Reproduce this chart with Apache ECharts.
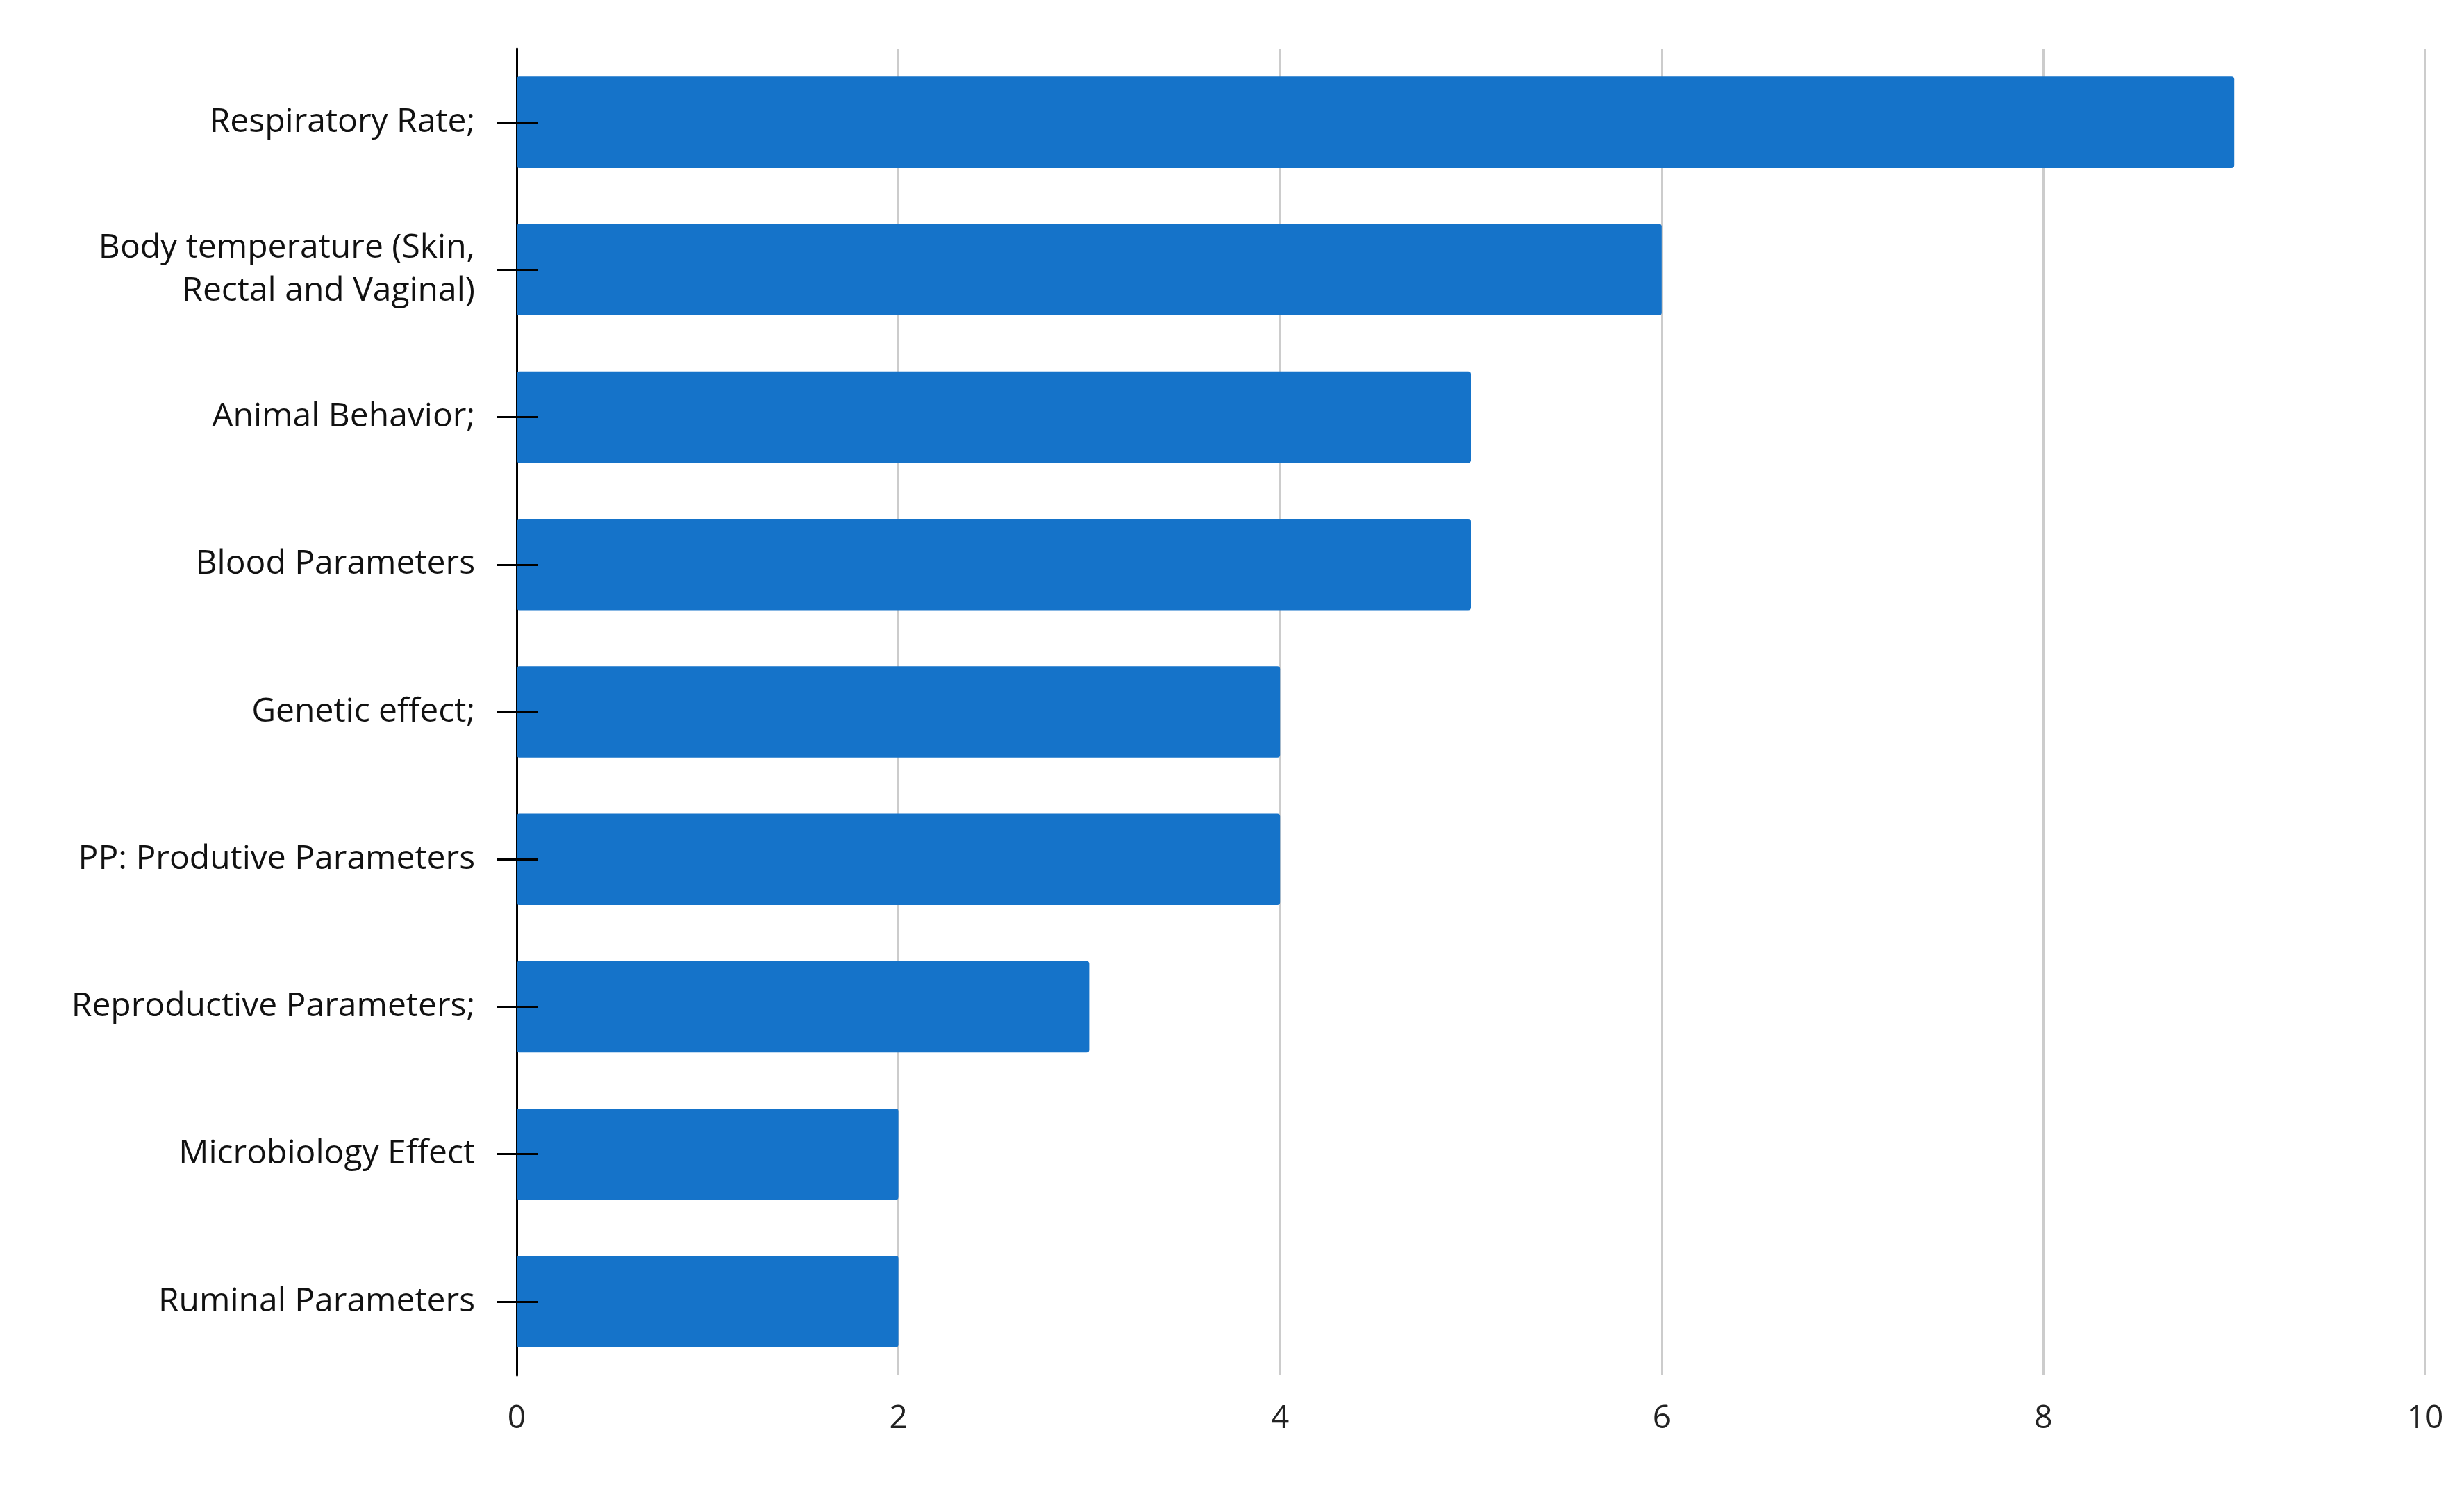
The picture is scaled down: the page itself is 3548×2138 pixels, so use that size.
<!DOCTYPE html>
<html>
<head>
<meta charset="utf-8">
<script src="https://cdn.jsdelivr.net/npm/echarts@6/dist/echarts.min.js"></script>
<style>html,body{margin:0;padding:0;background:#fff}#chart{width:3548px;height:2138px}</style>
</head>
<body>
<div id="chart"></div>
<script>
const categories = [
    'Respiratory Rate;',
    'Body temperature (Skin,\nRectal and Vaginal)',
    'Animal Behavior;',
    'Blood Parameters',
    'Genetic effect;',
    'PP: Produtive Parameters',
    'Reproductive Parameters;',
    'Microbiology Effect',
    'Ruminal Parameters'
];
const values = [9, 6, 5, 5, 4, 4, 3, 2, 2];
const xTicks = [0, 2, 4, 6, 8, 10];

const chart = echarts.init(document.getElementById('chart'));
const font = 'Open Sans';
chart.setOption({
    animation: false,
    grid: { left: 744, right: 56, top: 70, bottom: 158 },
    xAxis: {
        type: 'value', min: 0, max: 10, interval: 2,
        axisLine: { show: false }, axisTick: { show: false },
        axisLabel: { fontSize: 46, fontFamily: font, color: '#222', margin: 40,
            formatter: (v) => xTicks.includes(v) ? String(v) : '' },
        splitLine: { show: true, lineStyle: { color: '#cccccc', width: 3 } }
    },
    yAxis: [{
        type: 'category', data: categories, inverse: true,
        axisLine: { show: true, lineStyle: { color: '#000', width: 3 } },
        axisTick: { show: true, alignWithLabel: true, length: 28, lineStyle: { color: '#000', width: 3 } },
        axisLabel: { fontSize: 48, fontFamily: font, color: '#111', margin: 60, lineHeight: 62, align: 'right' }
    }, {
        type: 'category', data: categories, inverse: true, position: 'left', z: 10,
        axisLine: { show: false },
        axisTick: { show: true, inside: true, alignWithLabel: true, length: 30, lineStyle: { color: '#000', width: 3 } },
        axisLabel: { show: false }
    }],
    series: [{
        type: 'bar', data: values, yAxisIndex: 0,
        barCategoryGap: '38%',
        itemStyle: { color: '#1573C9', borderRadius: 4 }
    }]
});
</script>
</body>
</html>
